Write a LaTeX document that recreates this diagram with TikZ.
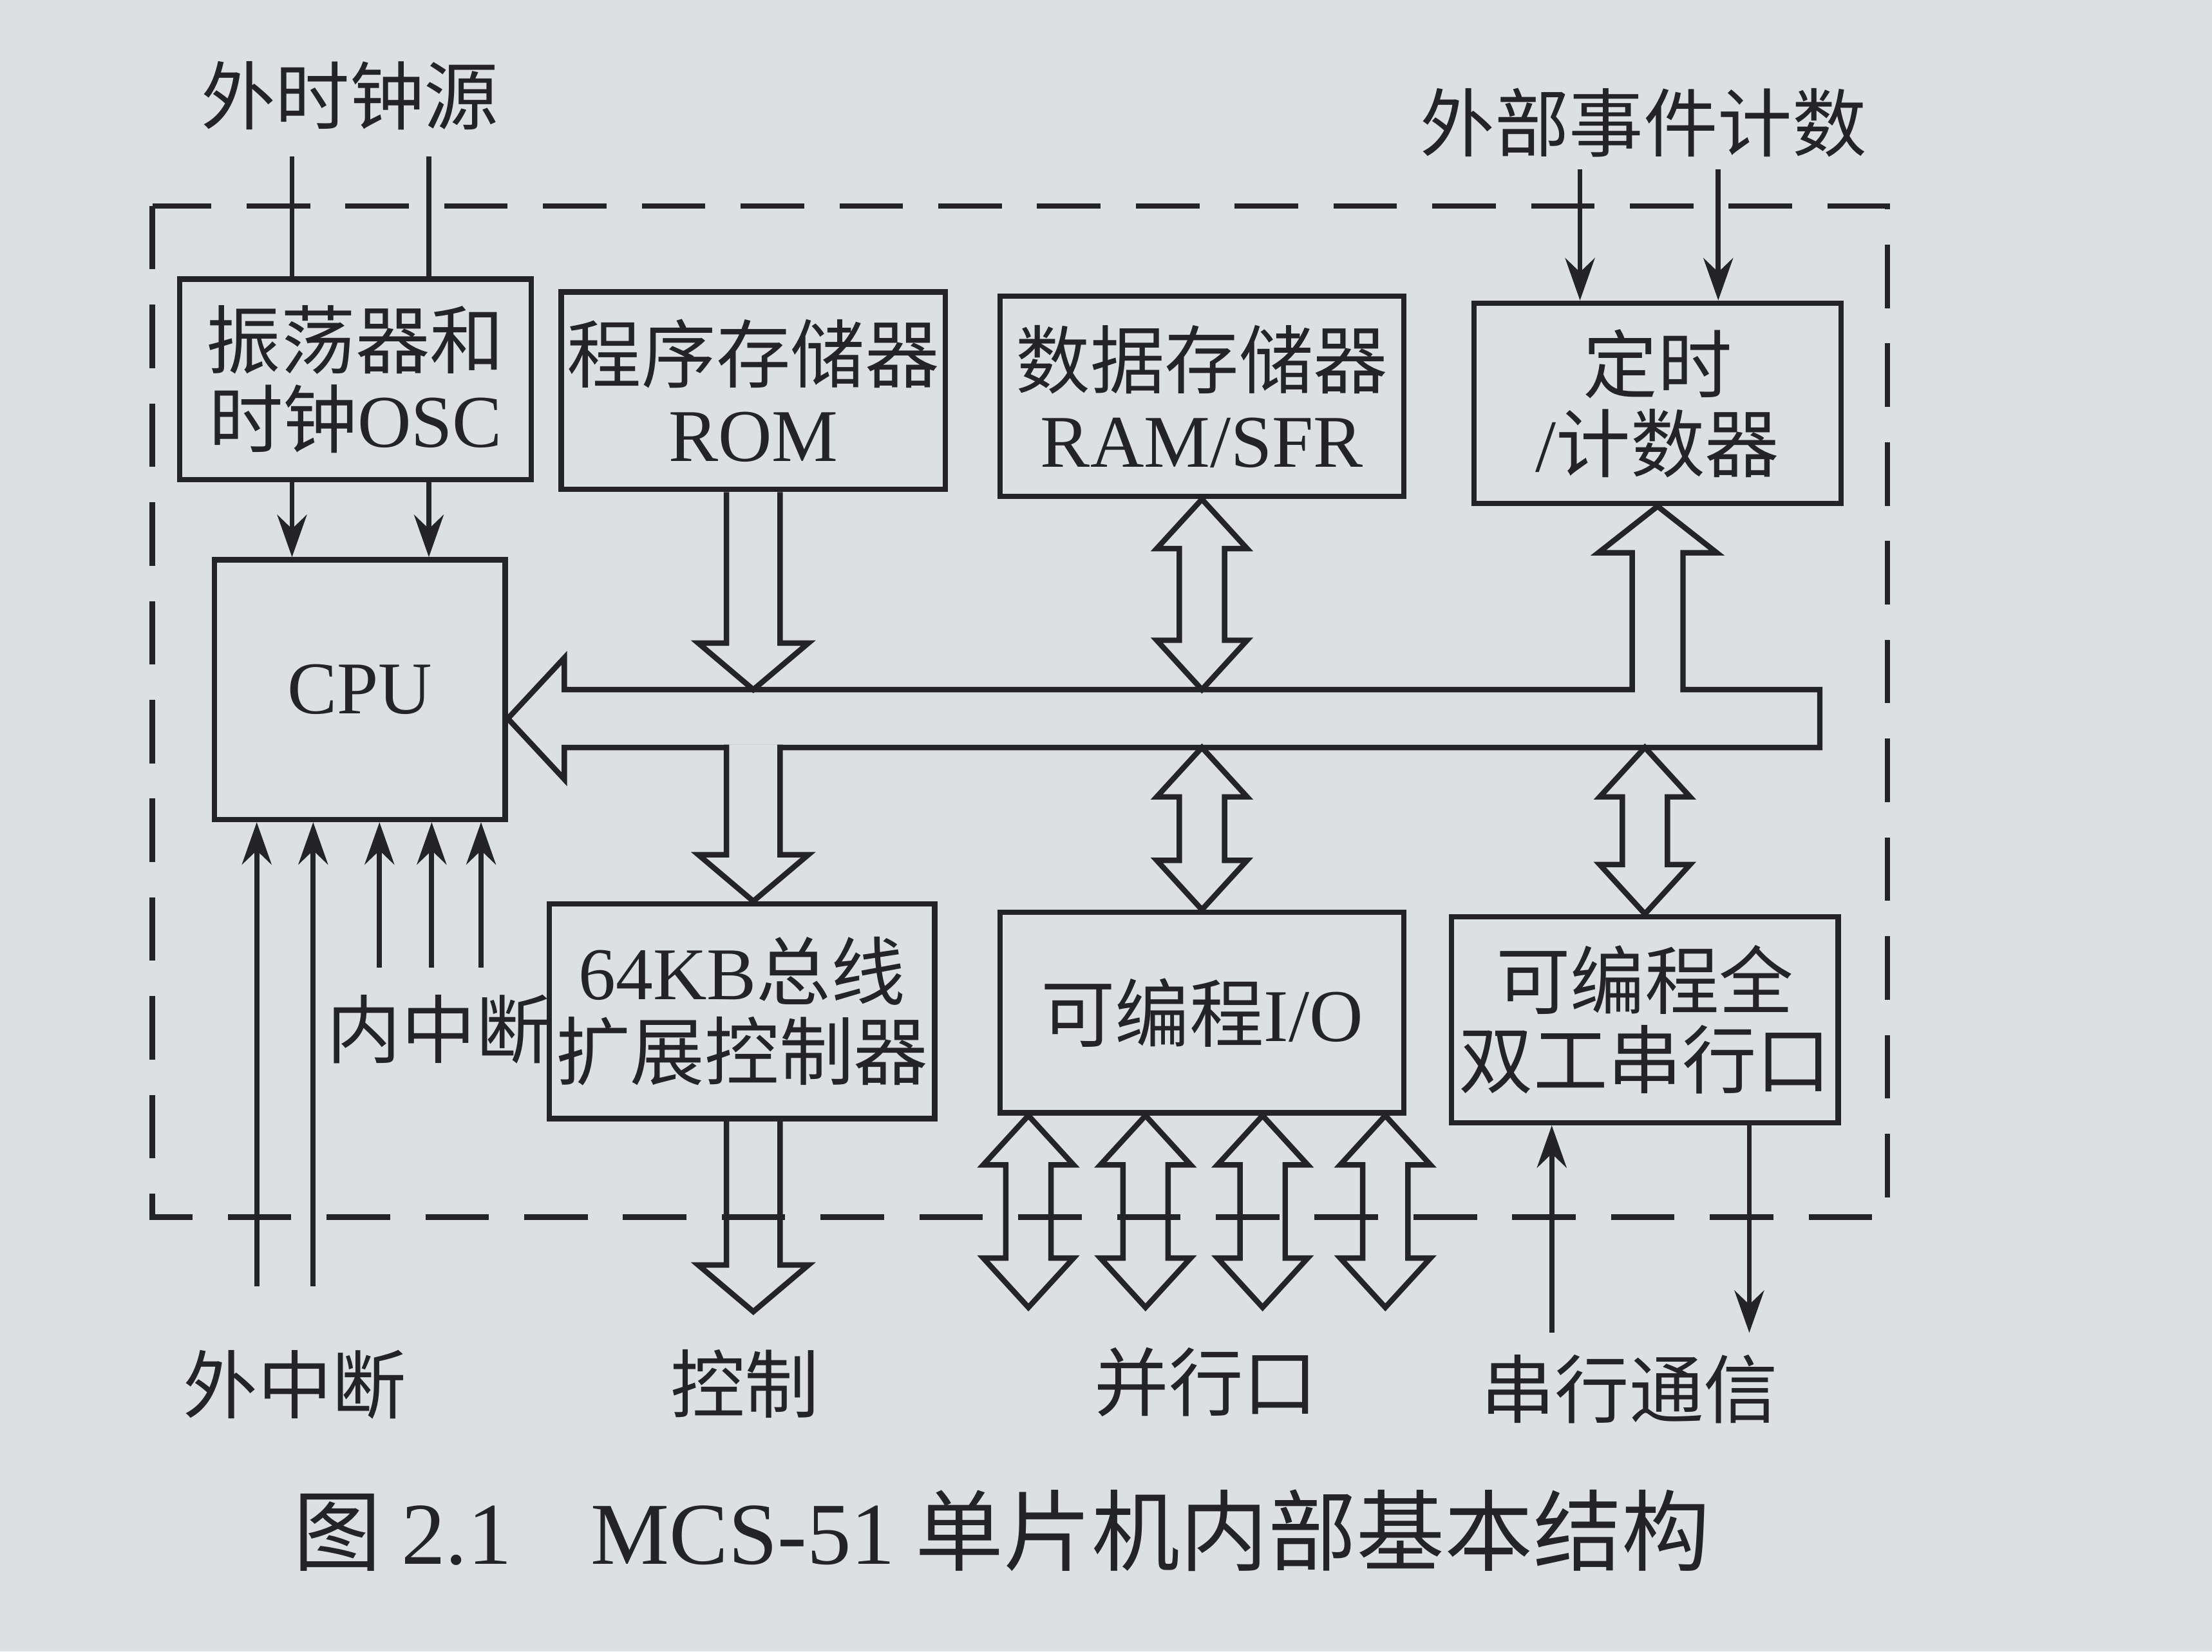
\documentclass[tikz,border=0pt]{standalone}
\usepackage{fontspec}
\setmainfont{Liberation Serif}
\newfontfamily\cjk{Noto Sans CJK SC}
\usepackage{tikz}
\usetikzlibrary{arrows.meta,calc}
\definecolor{paper}{RGB}{221,224,227}
\definecolor{ink}{RGB}{36,36,38}
\newcommand\romtxt[1]{{\rmfamily #1}}
% shaft / head sizes of the wide hollow arrows
\def\ssw{0.19cm}\def\shw{0.39cm}\def\shl{0.33cm}
\def\dsw{0.16cm}\def\dhw{0.32cm}\def\dhl{0.35cm}
\tikzset{
  unit/.style={
    draw=ink,
    line width=1.1pt,
    align=center,
    inner sep=0pt,
    text=ink,
    font=\cjk\fontsize{15}{16}\selectfont
  },
  lbl/.style={text=ink, inner sep=0pt, font=\cjk\fontsize{15}{16}\selectfont},
  frame/.style={draw=ink, line width=1.1pt, dash pattern=on 0.45cm off 0.25cm},
  busline/.style={draw=ink, line width=1.1pt},
  sigline/.style={draw=ink, line width=1pt},
  sig/.style={sigline, -{Stealth[length=3mm,width=2.1mm,inset=1mm]}},
  hollow/.style={draw=ink, line width=1.1pt, to path={
    let \p1=(\tikztostart), \p2=(\tikztotarget),
        \n1={ifthenelse(\y2>\y1,1,-1)} in
    ({\x1-\ssw},\y1) -- ({\x1-\ssw},{\y2-(\n1)*\shl}) -- ({\x1-\shw},{\y2-(\n1)*\shl})
    -- (\x1,\y2) -- ({\x1+\shw},{\y2-(\n1)*\shl}) -- ({\x1+\ssw},{\y2-(\n1)*\shl})
    -- ({\x1+\ssw},\y1)}},
  hollowdouble/.style={draw=ink, line width=1.1pt, to path={
    let \p1=(\tikztostart), \p2=(\tikztotarget),
        \n1={ifthenelse(\y2>\y1,1,-1)} in
    (\x1,\y1) -- ({\x1+\dhw},{\y1+(\n1)*\dhl}) -- ({\x1+\dsw},{\y1+(\n1)*\dhl})
    -- ({\x1+\dsw},{\y2-(\n1)*\dhl}) -- ({\x1+\dhw},{\y2-(\n1)*\dhl}) -- (\x1,\y2)
    -- ({\x1-\dhw},{\y2-(\n1)*\dhl}) -- ({\x1-\dsw},{\y2-(\n1)*\dhl})
    -- ({\x1-\dsw},{\y1+(\n1)*\dhl}) -- ({\x1-\dhw},{\y1+(\n1)*\dhl}) -- cycle}}
}

\begin{document}
\begin{tikzpicture}[x=0.01cm, y=-0.01cm]
  \fill[paper] (0,0) rectangle (1568,1171);
  \useasboundingbox (0,0) rectangle (1568,1171);

  % chip outline
  \draw[frame] (108,146) rectangle (1338,863);

  % functional units
  \node[unit, minimum width=2.49cm, minimum height=1.42cm] (osc) at (252,269) {振荡器和\\时钟\romtxt{OSC}};
  \node[unit, minimum width=2.72cm, minimum height=1.40cm] (rom) at (534,277) {程序存储器\\\romtxt{ROM}};
  \node[unit, minimum width=2.86cm, minimum height=1.42cm] (ram) at (852,281) {数据存储器\\\romtxt{RAM/SFR}};
  \node[unit, minimum width=2.60cm, minimum height=1.42cm] (timer) at (1175,286) {定时\\\romtxt{/}计数器};
  \node[unit, minimum width=2.06cm, minimum height=1.84cm] (cpu) at (255,489) {\romtxt{CPU}};
  \node[unit, minimum width=2.73cm, minimum height=1.52cm] (extbus) at (526,717) {\romtxt{64KB}总线\\扩展控制器};
  \node[unit, minimum width=2.86cm, minimum height=1.42cm] (io) at (852,718) {可编程\romtxt{I/O}};
  \node[unit, minimum width=2.74cm, minimum height=1.46cm] (serial) at (1166,723) {可编程全\\双工串行口};

  % outside labels
  \node[lbl] (clksrc) at (248,68) {外时钟源};
  \node[lbl] (evtcnt) at (1165,87) {外部事件计数};
  \node[lbl] (intint) at (311,730) {内中断};
  \node[lbl] (extint) at (209,982) {外中断};
  \node[lbl] (ctrl) at (528,981) {控制};
  \node[lbl] (pport) at (855,980) {并行口};
  \node[lbl] (scomm) at (1155,985) {串行通信};
  \node[lbl, font=\cjk\fontsize{17.8}{19}\selectfont] (caption) at (710,1085)
    {图 \romtxt{2.1}\hspace{0.9em}\romtxt{MCS-51} 单片机内部基本结构};

  \coordinate (clkin) at (0,111);
  \coordinate (evtin) at (0,120);
  \coordinate (bustop) at (0,489);
  \coordinate (busmid) at (0,509.5);
  \coordinate (busbot) at (0,530);
  \coordinate (extend) at (0,912);
  \coordinate (intend) at (0,686);
  \coordinate (portend) at (0,927);
  \coordinate (ctrlend) at (0,930);
  \coordinate (serend) at (0,945);

  % internal bus, joined to the timer arrow
  \draw[busline] (cpu.east |- busmid) -- (400,466.5) -- (400,489) -- (1157,489)
    -- (1157,392) -- (1133,392) -- (timer.south) -- (1217,392) -- (1193,392)
    -- (1193,489) -- (1290,489) -- (1290,530) -- (400,530) -- (400,552.5) -- cycle;

  % wide arrows
  \draw[hollow] (rom.south) to (rom.south |- bustop);
  \draw[hollow, fill=paper] ([yshift=0.02cm]rom.south |- busbot) to (rom.south |- extbus.north);
  \draw[hollow] (rom.south |- extbus.south) to (rom.south |- ctrlend);
  \draw[hollowdouble] (ram.south) to (ram.south |- bustop);
  \draw[hollowdouble] (io.north |- busbot) to (io.north);
  \draw[hollowdouble] (serial.north |- busbot) to (serial.north);
  \foreach \px in {729,812,895,982}
    \draw[hollowdouble] (\px,0 |- io.south) to (\px,0 |- portend);

  % clock, counter and interrupt lines
  \foreach \px in {207,304} {
    \draw[sigline] (\px,0 |- clkin) -- (\px,0 |- osc.north);
    \draw[sig] (\px,0 |- osc.south) -- (\px,0 |- cpu.north);
  }
  \foreach \px in {1120,1218}
    \draw[sig] (\px,0 |- evtin) -- (\px,0 |- timer.north);
  \foreach \px in {182,222}
    \draw[sig] (\px,0 |- extend) -- (\px,0 |- cpu.south);
  \foreach \px in {269,306,341}
    \draw[sig] (\px,0 |- intend) -- (\px,0 |- cpu.south);

  % serial lines
  \draw[sig] (1100,0 |- serend) -- (1100,0 |- serial.south);
  \draw[sig] (1240,0 |- serial.south) -- (1240,0 |- serend);
\end{tikzpicture}
\end{document}
